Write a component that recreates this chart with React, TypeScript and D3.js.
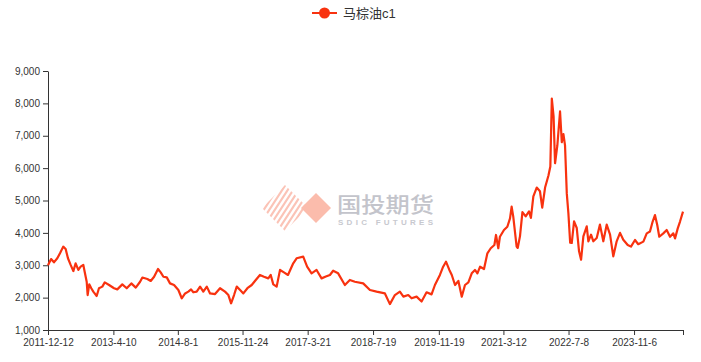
import { useEffect, useRef } from 'react';
import * as d3 from 'd3';

// 马棕油c1 收盘价，按图读取的近似值
const dates = [
  '2011-12-12', '2012-01-04', '2012-01-25', '2012-02-19', '2012-03-10', '2012-04-03', '2012-04-21',
  '2012-05-08', '2012-05-28', '2012-06-17', '2012-07-04', '2012-07-24', '2012-08-10', '2012-08-30',
  '2012-09-09', '2012-09-24', '2012-10-01', '2012-10-13', '2012-10-28', '2012-11-12', '2012-11-22',
  '2012-12-07', '2012-12-24', '2013-01-18', '2013-02-05', '2013-03-09', '2013-04-15', '2013-05-09',
  '2013-06-15', '2013-07-18', '2013-08-21', '2013-09-23', '2013-10-25', '2013-11-11', '2013-12-18',
  '2014-01-12', '2014-02-06', '2014-03-07', '2014-03-27', '2014-04-16', '2014-05-11', '2014-06-04',
  '2014-07-04', '2014-08-05', '2014-08-30', '2014-09-24', '2014-10-18', '2014-11-07', '2014-11-24',
  '2014-12-19', '2015-01-13', '2015-02-06', '2015-03-04', '2015-03-28', '2015-05-04', '2015-06-10',
  '2015-07-17', '2015-08-11', '2015-08-31', '2015-09-22', '2015-10-12', '2015-11-06', '2015-11-30',
  '2015-12-30', '2016-01-31', '2016-02-24', '2016-04-01', '2016-05-01', '2016-06-02', '2016-06-20',
  '2016-07-09', '2016-08-03', '2016-08-28', '2016-09-26', '2016-10-26', '2016-12-04', '2016-12-29',
  '2017-02-16', '2017-03-17', '2017-04-19', '2017-05-26', '2017-07-02', '2017-08-03', '2017-09-02',
  '2017-09-26', '2017-11-02', '2017-12-22', '2018-01-28', '2018-03-06', '2018-05-07', '2018-06-26',
  '2018-08-14', '2018-10-15', '2018-11-21', '2018-12-28', '2019-02-03', '2019-03-01', '2019-04-06',
  '2019-05-01', '2019-06-07', '2019-07-14', '2019-08-20', '2019-09-26', '2019-10-21', '2019-11-27',
  '2019-12-21', '2020-01-11', '2020-02-05', '2020-02-23', '2020-03-18', '2020-04-12', '2020-05-07',
  '2020-05-31', '2020-06-25', '2020-07-20', '2020-08-13', '2020-08-31', '2020-09-20', '2020-10-19',
  '2020-11-13', '2020-12-08', '2021-01-04', '2021-01-16', '2021-02-02', '2021-02-14', '2021-03-16',
  '2021-04-10', '2021-04-30', '2021-05-12', '2021-05-24', '2021-06-18', '2021-06-26', '2021-07-13',
  '2021-07-31', '2021-08-24', '2021-09-18', '2021-10-02', '2021-10-20', '2021-11-14', '2021-12-08',
  '2021-12-25', '2022-01-15', '2022-02-09', '2022-02-23', '2022-03-06', '2022-03-19', '2022-03-30',
  '2022-04-16', '2022-05-06', '2022-05-19', '2022-05-31', '2022-06-12', '2022-06-25', '2022-07-07',
  '2022-07-20', '2022-08-01', '2022-08-18', '2022-09-07', '2022-09-24', '2022-10-09', '2022-10-26',
  '2022-11-20', '2022-12-02', '2022-12-22', '2023-01-08', '2023-02-02', '2023-02-26', '2023-03-23',
  '2023-04-17', '2023-05-12', '2023-06-05', '2023-06-30', '2023-07-25', '2023-08-18', '2023-09-20',
  '2023-10-14', '2023-11-13', '2023-12-07', '2024-01-14', '2024-02-08', '2024-03-03', '2024-03-23',
  '2024-04-09', '2024-04-26', '2024-05-11', '2024-06-10', '2024-07-05', '2024-07-30', '2024-08-23',
  '2024-09-05', '2024-09-25', '2024-10-12', '2024-11-03',
];

const values = [
  3000, 3190, 3090, 3215, 3370, 3575, 3500,
  3215, 3010, 2820, 3060, 2855, 2955, 3010,
  2800, 2490, 2080, 2410, 2290, 2185, 2130,
  2050, 2290, 2340, 2470, 2390, 2290, 2255,
  2410, 2290, 2440, 2310, 2490, 2620, 2575,
  2515, 2645, 2885, 2780, 2645, 2625, 2440,
  2390, 2235, 1980, 2130, 2185, 2255, 2165,
  2185, 2340, 2185, 2340, 2130, 2110, 2290,
  2185, 2080, 1825, 2080, 2340, 2235, 2130,
  2290, 2390, 2515, 2700, 2645, 2595, 2700,
  2410, 2340, 2855, 2780, 2700, 3060, 3215,
  3265, 2955, 2750, 2855, 2595, 2650, 2700,
  2830, 2750, 2390, 2545, 2490, 2440, 2235,
  2185, 2130, 1800, 2080, 2185, 2030, 2080,
  1980, 2030, 1880, 2165, 2100, 2390, 2700,
  2955, 3110, 2855, 2700, 2390, 2515, 2030,
  2390, 2470, 2750, 2855, 2750, 2955, 2885,
  3370, 3525, 3625, 3935, 3525, 3880, 4090,
  4190, 4450, 4810, 4500, 3575, 3535, 3900,
  4640, 4510, 4665, 4460, 5130, 5400, 5285,
  4780, 5400, 5770, 6050, 8150, 7600, 6150,
  6700, 7750, 6800, 7050, 6700, 5220, 4600,
  3700, 3690, 4355, 4150, 3430, 3170, 3895,
  4200, 3740, 3945, 3740, 3840, 4255, 3740,
  4255, 3945, 3275, 3740, 4000, 3790, 3625,
  3575, 3780, 3650, 3730, 3985, 4040, 4350,
  4550, 4245, 3880, 3985, 4090, 3880, 3985,
  3830, 4140, 4350, 4655,
];

const xTickLabels = [
  '2011-12-12', '2013-4-10', '2014-8-1', '2015-11-24', '2017-3-21',
  '2018-7-19', '2019-11-19', '2021-3-12', '2022-7-8', '2023-11-6',
];
const yTicks = [1000, 2000, 3000, 4000, 5000, 6000, 7000, 8000, 9000];
const seriesName = '马棕油c1';

const W = 701;
const H = 362;
const left = 48;
const right = 683;
const top = 71;
const bottom = 330;
const lineColor = '#f8320f';
const font = '"Liberation Sans", Arial, "Noto Sans CJK SC", sans-serif';

const parse = d3.timeParse('%Y-%m-%d');

const Chart = () => {
  const ref = useRef<SVGSVGElement>(null);

  useEffect(() => {
    const svg = d3.select(ref.current);
    svg.selectAll('*').remove();

    const data = dates.map((d, i) => ({ date: parse(d) as Date, value: values[i] }));
    const tickDates = xTickLabels.map((s) => parse(s) as Date);

    const x = d3
      .scaleTime()
      .domain([data[0].date, data[data.length - 1].date])
      .range([left, right]);

    const y = d3.scaleLinear().domain([1000, 9000]).range([bottom, top]);

    // watermark
    const wm = svg.append('g');
    const clip = svg.append('defs').append('clipPath').attr('id', 'stripes');
    clip.append('path').attr('d', 'M262,208 L285,185 L308,208 L285,231 Z');
    const stripes = wm.append('g').attr('clip-path', 'url(#stripes)');
    d3.range(8).forEach((i) => {
      const off = i * 5.5;
      stripes
        .append('line')
        .attr('x1', 250 + off)
        .attr('y1', 231)
        .attr('x2', 280 + off)
        .attr('y2', 185)
        .attr('stroke', '#fbc3b6')
        .attr('stroke-width', 2.2);
    });
    wm.append('path')
      .attr('d', 'M301,208 L316,193 L331,208 L316,223 Z')
      .attr('fill', '#fbbcac');
    wm.append('text')
      .attr('x', 337)
      .attr('y', 212)
      .attr('font-family', '"Noto Sans CJK SC", sans-serif')
      .attr('font-size', 21)
      .attr('font-weight', 500)
      .attr('fill', '#c3c4cb')
      .attr('textLength', 97)
      .attr('lengthAdjust', 'spacingAndGlyphs')
      .text('国投期货');
    wm.append('text')
      .attr('x', 338)
      .attr('y', 225)
      .attr('font-family', font)
      .attr('font-size', 8)
      .attr('font-weight', 'bold')
      .attr('fill', '#c8c9cf')
      .attr('textLength', 95)
      .text('SDIC FUTURES');

    // axes
    const yAxis = svg
      .append('g')
      .attr('transform', `translate(${left},0)`)
      .call(
        d3
          .axisLeft(y)
          .tickValues(yTicks)
          .tickFormat(d3.format(','))
          .tickSize(5)
          .tickSizeOuter(0),
      );
    yAxis.selectAll('text').attr('font-family', font).attr('font-size', 10).attr('fill', '#333').attr('x', -8);
    yAxis.selectAll('line').attr('stroke', '#333');
    yAxis.select('.domain').attr('stroke', '#333');

    const xAxis = svg
      .append('g')
      .attr('transform', `translate(0,${bottom})`)
      .call(
        d3
          .axisBottom(x)
          .tickValues([...tickDates, data[data.length - 1].date])
          .tickFormat((_d, i) => (i < xTickLabels.length ? xTickLabels[i] : ''))
          .tickSize(5)
          .tickSizeOuter(0),
      );
    xAxis.selectAll('text').attr('font-family', font).attr('font-size', 10).attr('fill', '#333').attr('y', 9);
    xAxis.selectAll('line').attr('stroke', '#333');
    xAxis.select('.domain').attr('stroke', '#333');

    // series
    const line = d3
      .line<{ date: Date; value: number }>()
      .x((d) => x(d.date))
      .y((d) => y(d.value));

    svg
      .append('path')
      .datum(data)
      .attr('d', line)
      .attr('fill', 'none')
      .attr('stroke', lineColor)
      .attr('stroke-width', 2.2)
      .attr('stroke-linejoin', 'round');

    // legend
    const lg = svg.append('g').attr('transform', 'translate(312,13)');
    lg.append('line').attr('x1', 0).attr('x2', 25).attr('stroke', lineColor).attr('stroke-width', 2);
    lg.append('circle').attr('cx', 12.5).attr('r', 5.5).attr('fill', lineColor);
    lg.append('text')
      .attr('x', 31)
      .attr('dy', '0.35em')
      .attr('font-family', font)
      .attr('font-size', 13)
      .attr('fill', '#333')
      .text(seriesName);
  }, [ref]);

  return (
    <svg
      ref={ref}
      width={W}
      height={H}
      style={{ position: 'absolute', left: 0, top: 0, background: '#fff' }}
    />
  );
};

export default function App() {
  return (
    <div>
      <Chart />
    </div>
  );
}
